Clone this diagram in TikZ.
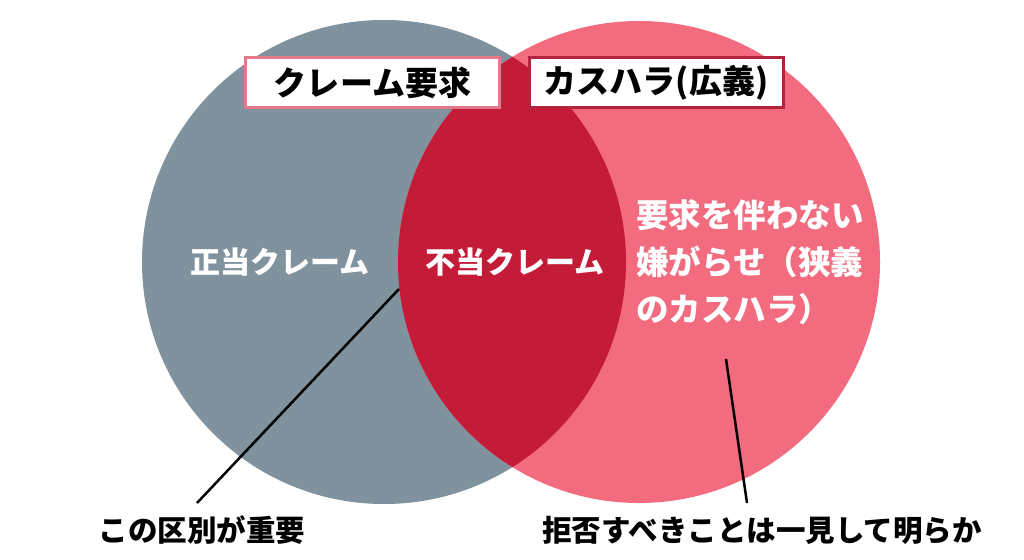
\documentclass[tikz,border=0pt]{standalone}
\usepackage{fontspec}
\usepackage{tikz}
\newfontfamily\jp{Noto Sans CJK JP}
\definecolor{claimgray}{HTML}{7F929E}
\definecolor{kasupink}{HTML}{F26B7F}
\definecolor{overlapred}{HTML}{C41C38}
\definecolor{boxpink}{HTML}{E27A8B}
\definecolor{boxred}{HTML}{B3233E}
\tikzset{
  labelbox/.style={draw, line width=3pt, fill=white, minimum width=254pt, minimum height=50pt, inner sep=0pt, font=\jp\bfseries\fontsize{33}{38}\selectfont, text=black},
  intext/.style={text=white, inner sep=0pt, font=\jp\bfseries\fontsize{30}{36}\selectfont},
  outtext/.style={text=black, inner sep=0pt, font=\jp\bfseries\fontsize{29.5}{34}\selectfont},
  pointer/.style={line width=2.5pt, black}
}
\begin{document}
\begin{tikzpicture}[x=1pt, y=-1pt]
    \useasboundingbox (0,0) rectangle (1024,559);
    \fill[white] (0,0) rectangle (1024,559);

    % Kreise
    \fill[claimgray] (384,262) circle (242);
    \fill[kasupink] (639,262) circle (241);
    % Schnittmenge
    \begin{scope}
        \clip (384,262) circle (242);
        \fill[overlapred] (639,262) circle (241);
    \end{scope}

    % Titel
    \node[labelbox, draw=boxpink] (claimbox) at (372.5,82.5) {クレーム要求};
    \node[labelbox, draw=boxred] (kasubox) at (656,82.5) {カスハラ(広義)};

    % Bereiche
    \node[intext] (legit) at (280,262) {正当クレーム};
    \node[intext] (unjust) at (515,262) {不当クレーム};
    \node[intext, anchor=west, align=left, font=\jp\bfseries\fontsize{32.5}{47}\selectfont] (narrow) at (636,262) {要求を伴わない\\嫌がらせ（狭義\\のカスハラ）};

    % Hinweise
    \node[outtext] (important) at (202,530) {この区別が重要};
    \node[outtext] (obvious) at (762,530) {拒否すべきことは一見して明らか};
    \coordinate (p1) at (399,289);
    \coordinate (q1) at (197,503);
    \coordinate (p2) at (726,359);
    \coordinate (q2) at (747,503);
    \draw[pointer] (p1) -- (q1);
    \draw[pointer] (p2) -- (q2);
\end{tikzpicture}
\end{document}
